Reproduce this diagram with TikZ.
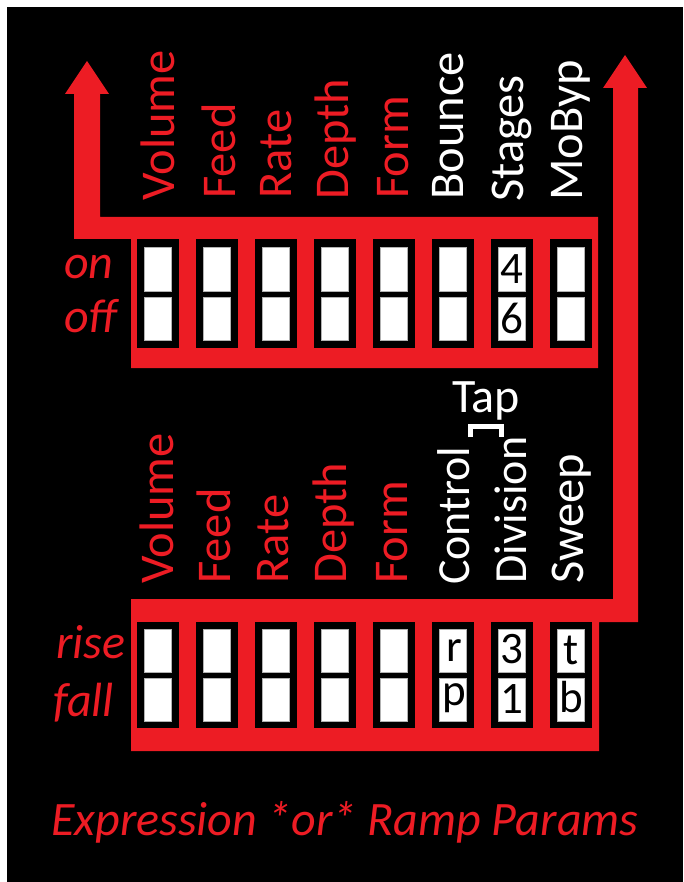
\documentclass[tikz,border=0pt]{standalone}
\usepackage{fontspec}
\setmainfont{Carlito}
\definecolor{myred}{RGB}{237,28,36}
\tikzset{
  redfill/.style={fill=myred},
  swbox/.style={fill=black},
  cellbox/.style={fill=white, draw=gray!60, line width=0.6pt},
  collbl/.style={font=\fontsize{48.5}{52}\selectfont, inner sep=0pt, anchor=base west, rotate=90},
  redlbl/.style={collbl, text=myred},
  whitelbl/.style={collbl, text=white},
  smallwhitelbl/.style={whitelbl, font=\fontsize{46}{50}\selectfont},
  rowlbl/.style={font=\fontsize{48}{52}\selectfont\itshape, inner sep=0pt, anchor=base west, text=myred},
  celltxt/.style={font=\fontsize{45}{48}\selectfont, inner sep=0pt, anchor=center, text=black},
}
\begin{document}
\begin{tikzpicture}[x=1pt,y=-1pt]
\useasboundingbox (0,0) rectangle (683,882);
\fill[white] (0,0) rectangle (683,882);
\fill[black] (7,7) rectangle (683,882);

% upper red shape with left arrow
\fill[redfill] (74,239) -- (74,94) -- (65,94) -- (87,61) -- (109,94) -- (100,94)
  -- (100,217) -- (598,217) -- (598,368) -- (131,368) -- (131,239) -- cycle;
% lower red shape with right arrow
\fill[redfill] (131,599) -- (613,599) -- (613,88) -- (603,88) -- (625,55) -- (647,88)
  -- (638,88) -- (638,622) -- (599,622) -- (599,751) -- (131,751) -- cycle;

% switches
\foreach \i in {0,...,7}{
  \pgfmathsetmacro{\xx}{137+59*\i}
  \fill[swbox] (\xx,239) rectangle ({\xx+42},348);
  \filldraw[cellbox] ({\xx+7.5},247) rectangle ({\xx+34.5},291);
  \filldraw[cellbox] ({\xx+7.5},297) rectangle ({\xx+34.5},340);
  \fill[swbox] (\xx,622) rectangle ({\xx+42},728);
  \filldraw[cellbox] ({\xx+7.5},629) rectangle ({\xx+34.5},672);
  \filldraw[cellbox] ({\xx+7.5},678) rectangle ({\xx+34.5},721);
}

% cell texts
\node[celltxt] (s4) at (512,269) {4};
\node[celltxt] (s6) at (512,318.5) {6};
\node[celltxt] (cr) at (454,650.5) {r};
\node[celltxt] (cp) at (454,698) {p};
\node[celltxt] (d3) at (512,649.5) {3};
\node[celltxt] (d1) at (512,699.5) {1};
\node[celltxt] (wt) at (571,650) {t};
\node[celltxt] (wb) at (571,697.5) {b};

% upper column labels
\node[redlbl] (u1) at (174,201) {Volume};
\node[redlbl] (u2) at (235,199) {Feed};
\node[redlbl] (u3) at (291,199) {Rate};
\node[redlbl] (u4) at (348,200) {Depth};
\node[redlbl] (u5) at (408,199) {Form};
\node[whitelbl] (u6) at (463,200) {Bounce};
\node[whitelbl] (u7) at (523,202) {Stages};
\node[whitelbl] (u8) at (582,201) {MoByp};

% lower column labels
\node[redlbl] (l1) at (173,584) {Volume};
\node[redlbl] (l2) at (230,584) {Feed};
\node[redlbl] (l3) at (288,584) {Rate};
\node[redlbl] (l4) at (346,584) {Depth};
\node[redlbl] (l5) at (407,584) {Form};
\node[smallwhitelbl] (l6) at (469,585) {Control};
\node[smallwhitelbl] (l7) at (526,584) {Division};
\node[whitelbl] (l8) at (583,584) {Sweep};

% Tap and bracket
\node[font=\fontsize{48}{52}\selectfont, inner sep=0pt, anchor=base west, text=white] (tap) at (452,412) {Tap};
\draw[white, line width=5pt] (470.5,437) -- (470.5,426.5) -- (501.5,426.5) -- (501.5,437);

% row labels
\node[rowlbl] (on) at (64,278) {on};
\node[rowlbl] (off) at (64,332) {off};
\node[rowlbl] (rise) at (56,658) {rise};
\node[rowlbl] (fall) at (53,716) {fall};

% title
\node[rowlbl] (title) at (51,835) {Expression *or* Ramp Params};
\end{tikzpicture}
\end{document}
